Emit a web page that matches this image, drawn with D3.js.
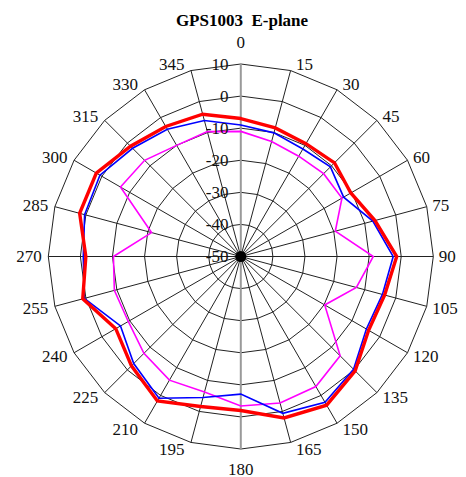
<!DOCTYPE html>
<html>
<head>
<meta charset="utf-8">
<script src="https://cdn.jsdelivr.net/npm/d3@7"></script>
<style>
  body { margin: 0; background: #fff; }
  text { font-family: "Liberation Serif", "Times New Roman", serif; }
</style>
</head>
<body>
<div id="frame"></div>
<script>
// data (dB), one value every 15 degrees starting at 0
const angles = d3.range(0, 360, 15);
const redSeries = [-7, -8.5, -9.4, -8.7, -10.4, -6.7, -1.4, -3.6, -4, 0.4, 3.5, 2.1,
                   -2, -1.6, 2, -1.8, -5, 1, -1.7, 2, 2, -1.4, -3.2, -4.1];
const blueSeries = [-9, -10.1, -11.3, -10.5, -13, -7.4, -2.5, -4.3, -4.8, -0.3, 2.5, 0.6,
                    -7.1, -4.5, 1, -2.8, -6.7, 0.5, -0.9, 0.4, 0.7, -2.3, -4.2, -6.1];
const magentaSeries = [-11, -12.9, -13.9, -13.5, -13.6, -19.5, -8.7, -12.7, -19.8, -6.2, -3.2, -2.7,
                       -3.4, -6.3, -5.5, -7.3, -9.5, -9.2, -10.3, -21.2, -6.7, -7.6, -10, -9.7];
const ringTicks = [-50, -40, -30, -20, -10, 0, 10];
const titleText = "GPS1003  E-plane";

const width = 466, height = 477;
const cx = 240.8, cy = 256.5, R = 192.5;

let svg = d3.select("#frame").append("svg")
    .attr("width", width)
    .attr("height", height);

let rScale = d3.scaleLinear().domain([-50, 10]).range([0, R]);
let aScale = d3.scaleLinear().domain([0, 360]).range([0, 2 * Math.PI]);

let g = svg.append("g").attr("transform", "translate(" + cx + "," + cy + ")");

// point on the chart for angle (deg) and radius (px), 0 at top, clockwise
function pt(a, r) {
    let t = aScale(a);
    return [r * Math.sin(t), -r * Math.cos(t)];
}

// rings (polygons through the spokes)
let ringLine = d3.lineRadial()
    .angle(d => aScale(d))
    .curve(d3.curveLinearClosed);

ringTicks.slice(1).forEach(v => {
    g.append("path")
        .attr("d", ringLine.radius(rScale(v))(angles))
        .attr("fill", "none")
        .attr("stroke", "#222")
        .attr("stroke-width", 1);
});

// spokes
angles.forEach(a => {
    if (a === 0 || a === 180) return;
    let p = pt(a, R);
    g.append("line")
        .attr("x1", 0).attr("y1", 0)
        .attr("x2", p[0]).attr("y2", p[1])
        .attr("stroke", "#222")
        .attr("stroke-width", 1);
});
g.append("line")
    .attr("x1", 0).attr("y1", -R)
    .attr("x2", 0).attr("y2", R)
    .attr("stroke", "#9a9a9a")
    .attr("stroke-width", 2);
g.append("circle").attr("r", 5.5).attr("fill", "#000");

// series
let seriesLine = d3.lineRadial()
    .angle((d, i) => aScale(angles[i]))
    .radius(d => rScale(d))
    .curve(d3.curveLinearClosed);

[[magentaSeries, "#ff00ff", 1.6], [blueSeries, "#0000ff", 1.6], [redSeries, "#ff0000", 3.4]]
    .forEach(s => {
        g.append("path")
            .attr("d", seriesLine(s[0]))
            .attr("fill", "none")
            .attr("stroke", s[1])
            .attr("stroke-width", s[2])
            .attr("stroke-linejoin", "miter");
    });

// radial tick labels along the vertical axis
ringTicks.forEach(v => {
    g.append("text")
        .attr("x", -12.3)
        .attr("y", -rScale(v) + 5.8)
        .attr("text-anchor", "end")
        .style("font-size", "17px")
        .attr("fill", "#111")
        .text(v);
});

// angle labels
angles.forEach(a => {
    let p = pt(a, R);
    let t = aScale(a);
    let s = Math.sin(t), c = Math.cos(t);
    let lbl = g.append("text")
        .style("font-size", "17px")
        .attr("fill", "#111")
        .text(a);
    if (a === 0) {
        lbl.attr("x", p[0]).attr("y", p[1] - 16).attr("text-anchor", "middle");
    } else if (a === 180) {
        lbl.attr("x", p[0]).attr("y", p[1] + 14 + 11.5).attr("text-anchor", "middle");
    } else {
        let ycen = p[1] - c * 6.5;
        lbl.attr("x", p[0] + (s > 0 ? 5.5 : -6.5))
            .attr("y", ycen + 5.8)
            .attr("text-anchor", s > 0 ? "start" : "end");
    }
});

// title
svg.append("text")
    .attr("x", 242)
    .attr("y", 26)
    .attr("text-anchor", "middle")
    .style("font-size", "17px")
    .style("font-weight", "bold")
    .style("white-space", "pre")
    .text(titleText);
</script>
</body>
</html>
